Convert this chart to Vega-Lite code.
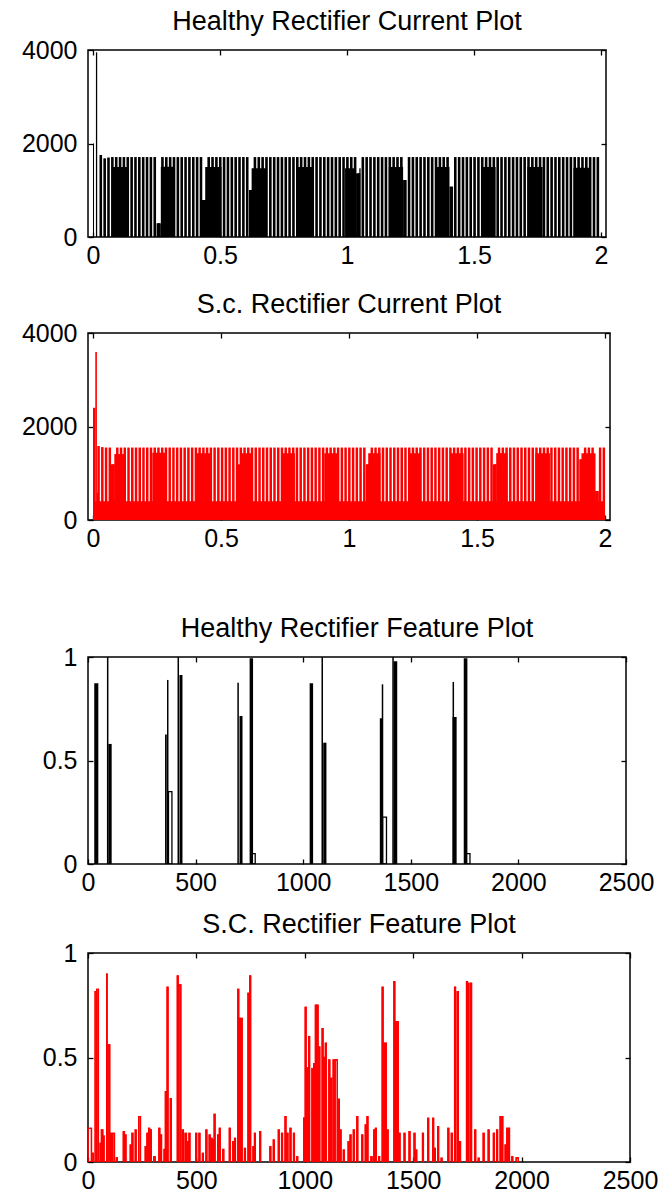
{
  "$schema": "https://vega.github.io/schema/vega-lite/v6.json",
  "background": "white",
  "padding": {"left": 20, "top": 7, "right": 5, "bottom": 5},
  "spacing": 62,
  "vconcat": [
    {
      "spacing": 21,
      "vconcat": [
        {
          "title": {"text": "Healthy Rectifier Current Plot"},
          "width": 518, "height": 187,
          "layer": [
            {
              "data": {"name": "p1blocks"},
              "mark": {"type": "rect", "color": "#000000", "clip": true},
              "encoding": {
                "x": {"field": "t0", "type": "quantitative", "scale": {"domain": [0, 2], "nice": false, "zero": false}, "axis": {"orient": "bottom", "title": null, "values": [0, 0.5, 1, 1.5, 2], "format": "~g", "labelPadding": 11}},
                "x2": {"field": "t1"},
                "y": {"field": "v", "type": "quantitative", "scale": {"domain": [0, 4000], "nice": false}, "axis": {"orient": "left", "title": null, "values": [0, 2000, 4000], "format": "d", "labelPadding": 16}},
                "y2": {"datum": 0}
              }
            },
            {
              "data": {"name": "p1pulses"},
              "mark": {"type": "bar", "orient": "vertical", "width": 2.6, "color": "#000000", "clip": true},
              "encoding": {
                "x": {"field": "t", "type": "quantitative", "axis": {"orient": "top", "title": null, "values": [0, 0.5, 1, 1.5, 2], "labels": false}},
                "y": {"field": "v", "type": "quantitative", "axis": {"orient": "right", "title": null, "values": [0, 2000, 4000], "labels": false}}
              }
            }
          ],
          "resolve": {"axis": {"x": "independent", "y": "independent"}}
        },
        {
          "title": {"text": "S.c. Rectifier Current Plot"},
          "width": 522, "height": 187,
          "layer": [
            {
              "data": {"name": "p2blocks"},
              "mark": {"type": "rect", "color": "#ff0000", "clip": true},
              "encoding": {
                "x": {"field": "t0", "type": "quantitative", "scale": {"domain": [0, 2], "nice": false, "zero": false}, "axis": {"orient": "bottom", "title": null, "values": [0, 0.5, 1, 1.5, 2], "format": "~g", "labelPadding": 11}},
                "x2": {"field": "t1"},
                "y": {"field": "v", "type": "quantitative", "scale": {"domain": [0, 4000], "nice": false}, "axis": {"orient": "left", "title": null, "values": [0, 2000, 4000], "format": "d", "labelPadding": 16}},
                "y2": {"datum": 0}
              }
            },
            {
              "data": {"name": "p2pulses"},
              "mark": {"type": "bar", "orient": "vertical", "width": 2.5, "color": "#ff0000", "clip": true},
              "encoding": {
                "x": {"field": "t", "type": "quantitative", "axis": {"orient": "top", "title": null, "values": [0, 0.5, 1, 1.5, 2], "labels": false}},
                "y": {"field": "v", "type": "quantitative", "axis": {"orient": "right", "title": null, "values": [0, 2000, 4000], "labels": false}}
              }
            }
          ],
          "resolve": {"axis": {"x": "independent", "y": "independent"}}
        }
      ]
    },
    {
      "spacing": 14,
      "vconcat": [
        {
          "title": {"text": "Healthy Rectifier Feature Plot"},
          "width": 538, "height": 207,
          "layer": [
            {
              "data": {"name": "p3solid"},
              "mark": {"type": "rect", "color": "#000000", "clip": true},
              "encoding": {
                "x": {"field": "u0", "type": "quantitative", "scale": {"domain": [0, 2500], "nice": false, "zero": false}, "axis": {"orient": "bottom", "title": null, "values": [0, 500, 1000, 1500, 2000, 2500], "format": "d", "labelPadding": 11}},
                "x2": {"field": "u1"},
                "y": {"field": "v", "type": "quantitative", "scale": {"domain": [0, 1], "nice": false}, "axis": {"orient": "left", "title": null, "values": [0, 0.5, 1], "format": "~g", "labelPadding": 16}},
                "y2": {"datum": 0}
              }
            },
            {
              "data": {"name": "p3outline"},
              "mark": {"type": "rect", "filled": false, "color": "#000000", "strokeWidth": 1.3, "clip": true},
              "encoding": {
                "x": {"field": "u0", "type": "quantitative", "axis": {"orient": "top", "title": null, "values": [0, 500, 1000, 1500, 2000, 2500], "labels": false}},
                "x2": {"field": "u1"},
                "y": {"field": "v", "type": "quantitative", "axis": {"orient": "right", "title": null, "values": [0, 0.5, 1], "labels": false}},
                "y2": {"datum": 0}
              }
            }
          ],
          "resolve": {"axis": {"x": "independent", "y": "independent"}}
        },
        {
          "title": {"text": "S.C. Rectifier Feature Plot"},
          "width": 542, "height": 209,
          "layer": [
            {
              "data": {"name": "p4outline"},
              "mark": {"type": "rect", "filled": false, "color": "#ff0000", "strokeWidth": 1.3, "clip": true},
              "encoding": {
                "x": {"field": "u0", "type": "quantitative", "scale": {"domain": [0, 2500], "nice": false, "zero": false}, "axis": {"orient": "bottom", "title": null, "values": [0, 500, 1000, 1500, 2000, 2500], "format": "d", "labelPadding": 11}},
                "x2": {"field": "u1"},
                "y": {"field": "v", "type": "quantitative", "scale": {"domain": [0, 1], "nice": false}, "axis": {"orient": "left", "title": null, "values": [0, 0.5, 1], "format": "~g", "labelPadding": 16}},
                "y2": {"datum": 0}
              }
            },
            {
              "data": {"name": "p4outline"},
              "mark": {"type": "rect", "filled": false, "color": "#ff0000", "strokeWidth": 1.3, "clip": true},
              "encoding": {
                "x": {"field": "u0", "type": "quantitative", "axis": {"orient": "top", "title": null, "values": [0, 500, 1000, 1500, 2000, 2500], "labels": false}},
                "x2": {"field": "u1"},
                "y": {"field": "v", "type": "quantitative", "axis": {"orient": "right", "title": null, "values": [0, 0.5, 1], "labels": false}},
                "y2": {"datum": 0}
              }
            }
          ],
          "resolve": {"axis": {"x": "independent", "y": "independent"}}
        }
      ]
    }
  ],
  "datasets": {
    "p1blocks": [
      {"t0": 0, "t1": 0.004, "v": 2000}, {"t0": 0.0115, "t1": 0.0165, "v": 3950},
      {"t0": 0.0755, "t1": 0.1352, "v": 1500},
      {"t0": 0.2502, "t1": 0.2670, "v": 293}, {"t0": 0.2670, "t1": 0.3230, "v": 1504},
      {"t0": 0.4291, "t1": 0.4418, "v": 791}, {"t0": 0.4418, "t1": 0.5057, "v": 1500},
      {"t0": 0.6142, "t1": 0.6245, "v": 1005}, {"t0": 0.6245, "t1": 0.6847, "v": 1469},
      {"t0": 0.7996, "t1": 0.8697, "v": 1500},
      {"t0": 0.9923, "t1": 1.0357, "v": 1470}, {"t0": 1.0357, "t1": 1.0485, "v": 1362}, {"t0": 1.0485, "t1": 1.0536, "v": 1470},
      {"t0": 1.1648, "t1": 1.2209, "v": 1500}, {"t0": 1.2209, "t1": 1.2337, "v": 1219},
      {"t0": 1.3487, "t1": 1.4035, "v": 1500}, {"t0": 1.4035, "t1": 1.4176, "v": 1076},
      {"t0": 1.5276, "t1": 1.5851, "v": 1500},
      {"t0": 1.7100, "t1": 1.7701, "v": 1500},
      {"t0": 1.8916, "t1": 1.9552, "v": 1480}
    ],
    "p1pulses": [
      {"t": 0.0307, "v": 1754}, {"t": 0.0459, "v": 1683}, {"t": 0.0610, "v": 1700}, {"t": 0.0762, "v": 1710}, {"t": 0.0914, "v": 1710},
      {"t": 0.1066, "v": 1710}, {"t": 0.1217, "v": 1710}, {"t": 0.1369, "v": 1710}, {"t": 0.1521, "v": 1710}, {"t": 0.1672, "v": 1710},
      {"t": 0.1824, "v": 1710}, {"t": 0.1976, "v": 1710}, {"t": 0.2127, "v": 1710}, {"t": 0.2279, "v": 1710}, {"t": 0.2431, "v": 1710},
      {"t": 0.2583, "v": 293}, {"t": 0.2734, "v": 1710}, {"t": 0.2886, "v": 1710}, {"t": 0.3038, "v": 1710}, {"t": 0.3189, "v": 1710},
      {"t": 0.3341, "v": 1710}, {"t": 0.3493, "v": 1710}, {"t": 0.3644, "v": 1710}, {"t": 0.3796, "v": 1710}, {"t": 0.3948, "v": 1710},
      {"t": 0.4099, "v": 1710}, {"t": 0.4251, "v": 1710}, {"t": 0.4403, "v": 791}, {"t": 0.4555, "v": 1710}, {"t": 0.4706, "v": 1710},
      {"t": 0.4858, "v": 1710}, {"t": 0.5010, "v": 1710}, {"t": 0.5161, "v": 1710}, {"t": 0.5313, "v": 1710}, {"t": 0.5465, "v": 1710},
      {"t": 0.5617, "v": 1710}, {"t": 0.5768, "v": 1710}, {"t": 0.5920, "v": 1710}, {"t": 0.6072, "v": 1710}, {"t": 0.6223, "v": 1005},
      {"t": 0.6375, "v": 1710}, {"t": 0.6527, "v": 1710}, {"t": 0.6678, "v": 1710}, {"t": 0.6830, "v": 1710}, {"t": 0.6982, "v": 1710},
      {"t": 0.7134, "v": 1710}, {"t": 0.7285, "v": 1710}, {"t": 0.7437, "v": 1710}, {"t": 0.7589, "v": 1710}, {"t": 0.7740, "v": 1710},
      {"t": 0.7892, "v": 1710}, {"t": 0.8044, "v": 1710}, {"t": 0.8195, "v": 1710}, {"t": 0.8347, "v": 1710}, {"t": 0.8499, "v": 1710},
      {"t": 0.8651, "v": 1710}, {"t": 0.8802, "v": 1710}, {"t": 0.8954, "v": 1710}, {"t": 0.9106, "v": 1710}, {"t": 0.9257, "v": 1710},
      {"t": 0.9409, "v": 1710}, {"t": 0.9561, "v": 1710}, {"t": 0.9712, "v": 1710}, {"t": 0.9864, "v": 1710}, {"t": 1.0016, "v": 1710},
      {"t": 1.0168, "v": 1710}, {"t": 1.0319, "v": 1710}, {"t": 1.0471, "v": 1362}, {"t": 1.0623, "v": 1710}, {"t": 1.0774, "v": 1710},
      {"t": 1.0926, "v": 1710}, {"t": 1.1078, "v": 1710}, {"t": 1.1229, "v": 1710}, {"t": 1.1381, "v": 1710}, {"t": 1.1533, "v": 1710},
      {"t": 1.1685, "v": 1710}, {"t": 1.1836, "v": 1710}, {"t": 1.1988, "v": 1710}, {"t": 1.2140, "v": 1710}, {"t": 1.2291, "v": 1219},
      {"t": 1.2443, "v": 1710}, {"t": 1.2595, "v": 1710}, {"t": 1.2746, "v": 1710}, {"t": 1.2898, "v": 1710}, {"t": 1.3050, "v": 1710},
      {"t": 1.3202, "v": 1710}, {"t": 1.3353, "v": 1710}, {"t": 1.3505, "v": 1710}, {"t": 1.3657, "v": 1710}, {"t": 1.3808, "v": 1710},
      {"t": 1.3960, "v": 1710}, {"t": 1.4112, "v": 1076}, {"t": 1.4263, "v": 1710}, {"t": 1.4415, "v": 1710}, {"t": 1.4567, "v": 1710},
      {"t": 1.4719, "v": 1710}, {"t": 1.4870, "v": 1710}, {"t": 1.5022, "v": 1710}, {"t": 1.5174, "v": 1710}, {"t": 1.5325, "v": 1710},
      {"t": 1.5477, "v": 1710}, {"t": 1.5629, "v": 1710}, {"t": 1.5780, "v": 1710}, {"t": 1.5932, "v": 1710}, {"t": 1.6084, "v": 1710},
      {"t": 1.6236, "v": 1710}, {"t": 1.6387, "v": 1710}, {"t": 1.6539, "v": 1710}, {"t": 1.6691, "v": 1710}, {"t": 1.6842, "v": 1710},
      {"t": 1.6994, "v": 1710}, {"t": 1.7146, "v": 1710}, {"t": 1.7297, "v": 1710}, {"t": 1.7449, "v": 1710}, {"t": 1.7601, "v": 1710},
      {"t": 1.7753, "v": 1710}, {"t": 1.7904, "v": 1710}, {"t": 1.8056, "v": 1710}, {"t": 1.8208, "v": 1710}, {"t": 1.8359, "v": 1710},
      {"t": 1.8511, "v": 1710}, {"t": 1.8663, "v": 1710}, {"t": 1.8814, "v": 1710}, {"t": 1.8966, "v": 1710}, {"t": 1.9118, "v": 1710},
      {"t": 1.9270, "v": 1710}, {"t": 1.9421, "v": 1710}, {"t": 1.9573, "v": 1710}, {"t": 1.9725, "v": 1710}, {"t": 1.9876, "v": 1710}
    ],
    "p2blocks": [
      {"t0": 0, "t1": 2, "v": 400},
      {"t0": 0, "t1": 0.0089, "v": 2400}, {"t0": 0.0089, "t1": 0.0153, "v": 3594}, {"t0": 0.0153, "t1": 0.0220, "v": 585},
      {"t0": 0.0699, "t1": 0.0833, "v": 1191}, {"t0": 0.0833, "t1": 0.1210, "v": 1411},
      {"t0": 0.2317, "t1": 0.2863, "v": 1440},
      {"t0": 0.4008, "t1": 0.4580, "v": 1430},
      {"t0": 0.5660, "t1": 0.5763, "v": 1191}, {"t0": 0.5763, "t1": 0.6233, "v": 1430},
      {"t0": 0.7379, "t1": 0.7888, "v": 1430},
      {"t0": 0.9034, "t1": 0.9580, "v": 1430},
      {"t0": 1.0660, "t1": 1.0750, "v": 1191}, {"t0": 1.0750, "t1": 1.1233, "v": 1430},
      {"t0": 1.2316, "t1": 1.2824, "v": 1430},
      {"t0": 1.3969, "t1": 1.4477, "v": 1430},
      {"t0": 1.5622, "t1": 1.5750, "v": 1191}, {"t0": 1.5750, "t1": 1.6195, "v": 1430},
      {"t0": 1.7278, "t1": 1.7850, "v": 1430},
      {"t0": 1.8996, "t1": 1.9080, "v": 1298}, {"t0": 1.9080, "t1": 1.9630, "v": 1430}, {"t0": 1.9630, "t1": 1.9760, "v": 620}
    ],
    "p2pulses": [
      {"t": 0.0218, "v": 1583}, {"t": 0.0364, "v": 1560}, {"t": 0.0510, "v": 1550}, {"t": 0.0657, "v": 1550}, {"t": 0.0803, "v": 1191},
      {"t": 0.0949, "v": 1550}, {"t": 0.1095, "v": 1550}, {"t": 0.1241, "v": 1550}, {"t": 0.1388, "v": 1550}, {"t": 0.1534, "v": 1550},
      {"t": 0.1680, "v": 1550}, {"t": 0.1826, "v": 1550}, {"t": 0.1972, "v": 1550}, {"t": 0.2119, "v": 1550}, {"t": 0.2265, "v": 1550},
      {"t": 0.2411, "v": 1550}, {"t": 0.2557, "v": 1550}, {"t": 0.2703, "v": 1550}, {"t": 0.2850, "v": 1550}, {"t": 0.2996, "v": 1550},
      {"t": 0.3142, "v": 1550}, {"t": 0.3288, "v": 1550}, {"t": 0.3434, "v": 1550}, {"t": 0.3581, "v": 1550}, {"t": 0.3727, "v": 1550},
      {"t": 0.3873, "v": 1550}, {"t": 0.4019, "v": 1550}, {"t": 0.4165, "v": 1550}, {"t": 0.4312, "v": 1550}, {"t": 0.4458, "v": 1550},
      {"t": 0.4604, "v": 1550}, {"t": 0.4750, "v": 1550}, {"t": 0.4896, "v": 1550}, {"t": 0.5043, "v": 1550}, {"t": 0.5189, "v": 1550},
      {"t": 0.5335, "v": 1550}, {"t": 0.5481, "v": 1550}, {"t": 0.5627, "v": 1550}, {"t": 0.5774, "v": 1550}, {"t": 0.5920, "v": 1550},
      {"t": 0.6066, "v": 1550}, {"t": 0.6212, "v": 1550}, {"t": 0.6358, "v": 1550}, {"t": 0.6505, "v": 1550}, {"t": 0.6651, "v": 1550},
      {"t": 0.6797, "v": 1550}, {"t": 0.6943, "v": 1550}, {"t": 0.7089, "v": 1550}, {"t": 0.7236, "v": 1550}, {"t": 0.7382, "v": 1550},
      {"t": 0.7528, "v": 1550}, {"t": 0.7674, "v": 1550}, {"t": 0.7820, "v": 1550}, {"t": 0.7967, "v": 1550}, {"t": 0.8113, "v": 1550},
      {"t": 0.8259, "v": 1550}, {"t": 0.8405, "v": 1550}, {"t": 0.8551, "v": 1550}, {"t": 0.8698, "v": 1550}, {"t": 0.8844, "v": 1550},
      {"t": 0.8990, "v": 1550}, {"t": 0.9136, "v": 1550}, {"t": 0.9282, "v": 1550}, {"t": 0.9429, "v": 1550}, {"t": 0.9575, "v": 1550},
      {"t": 0.9721, "v": 1550}, {"t": 0.9867, "v": 1550}, {"t": 1.0013, "v": 1550}, {"t": 1.0160, "v": 1550}, {"t": 1.0306, "v": 1550},
      {"t": 1.0452, "v": 1550}, {"t": 1.0598, "v": 1550}, {"t": 1.0744, "v": 1191}, {"t": 1.0891, "v": 1550}, {"t": 1.1037, "v": 1550},
      {"t": 1.1183, "v": 1550}, {"t": 1.1329, "v": 1550}, {"t": 1.1475, "v": 1550}, {"t": 1.1622, "v": 1550}, {"t": 1.1768, "v": 1550},
      {"t": 1.1914, "v": 1550}, {"t": 1.2060, "v": 1550}, {"t": 1.2206, "v": 1550}, {"t": 1.2353, "v": 1550}, {"t": 1.2499, "v": 1550},
      {"t": 1.2645, "v": 1550}, {"t": 1.2791, "v": 1550}, {"t": 1.2937, "v": 1550}, {"t": 1.3084, "v": 1550}, {"t": 1.3230, "v": 1550},
      {"t": 1.3376, "v": 1550}, {"t": 1.3522, "v": 1550}, {"t": 1.3668, "v": 1550}, {"t": 1.3815, "v": 1550}, {"t": 1.3961, "v": 1550},
      {"t": 1.4107, "v": 1550}, {"t": 1.4253, "v": 1550}, {"t": 1.4399, "v": 1550}, {"t": 1.4546, "v": 1550}, {"t": 1.4692, "v": 1550},
      {"t": 1.4838, "v": 1550}, {"t": 1.4984, "v": 1550}, {"t": 1.5130, "v": 1550}, {"t": 1.5277, "v": 1550}, {"t": 1.5423, "v": 1550},
      {"t": 1.5569, "v": 1550}, {"t": 1.5715, "v": 1191}, {"t": 1.5861, "v": 1550}, {"t": 1.6008, "v": 1550}, {"t": 1.6154, "v": 1550},
      {"t": 1.6300, "v": 1550}, {"t": 1.6446, "v": 1550}, {"t": 1.6592, "v": 1550}, {"t": 1.6739, "v": 1550}, {"t": 1.6885, "v": 1550},
      {"t": 1.7031, "v": 1550}, {"t": 1.7177, "v": 1550}, {"t": 1.7323, "v": 1550}, {"t": 1.7470, "v": 1550}, {"t": 1.7616, "v": 1550},
      {"t": 1.7762, "v": 1550}, {"t": 1.7908, "v": 1550}, {"t": 1.8054, "v": 1550}, {"t": 1.8201, "v": 1550}, {"t": 1.8347, "v": 1550},
      {"t": 1.8493, "v": 1550}, {"t": 1.8639, "v": 1550}, {"t": 1.8785, "v": 1550}, {"t": 1.8932, "v": 1550}, {"t": 1.9078, "v": 1298},
      {"t": 1.9224, "v": 1550}, {"t": 1.9370, "v": 1550}, {"t": 1.9516, "v": 1550}, {"t": 1.9663, "v": 620}, {"t": 1.9809, "v": 1550},
      {"t": 1.9955, "v": 1550}
    ],
    "p3solid": [
      {"u0": 29, "u1": 48, "v": 0.873}, {"u0": 94.5, "u1": 110, "v": 0.58},
      {"u0": 358, "u1": 366, "v": 0.626}, {"u0": 425, "u1": 439, "v": 0.913},
      {"u0": 704, "u1": 718, "v": 0.715}, {"u0": 751, "u1": 767, "v": 0.994},
      {"u0": 1030, "u1": 1046, "v": 0.873}, {"u0": 1093, "u1": 1108, "v": 0.586},
      {"u0": 1356, "u1": 1369, "v": 0.704}, {"u0": 1420, "u1": 1437, "v": 0.98},
      {"u0": 1694, "u1": 1713, "v": 0.71}, {"u0": 1746, "u1": 1763, "v": 0.994}
    ],
    "p3outline": [
      {"u0": 91, "u1": 92, "v": 1.0}, {"u0": 370, "u1": 371, "v": 0.886}, {"u0": 374, "u1": 390, "v": 0.35},
      {"u0": 419, "u1": 420, "v": 1.0}, {"u0": 697, "u1": 698, "v": 0.873}, {"u0": 757, "u1": 777, "v": 0.05},
      {"u0": 1088, "u1": 1089, "v": 1.0}, {"u0": 1368, "u1": 1369, "v": 0.865}, {"u0": 1369, "u1": 1387, "v": 0.226},
      {"u0": 1417, "u1": 1418, "v": 1.0}, {"u0": 1697, "u1": 1698, "v": 0.876}, {"u0": 1756, "u1": 1775, "v": 0.05}
    ],
    "p4outline": [
      {"u0": 0, "u1": 16, "v": 0.161}, {"u0": 17, "u1": 24, "v": 0.041}, {"u0": 33, "u1": 40, "v": 0.815}, {"u0": 40, "u1": 48, "v": 0.826},
      {"u0": 56, "u1": 60, "v": 0.089}, {"u0": 62, "u1": 68, "v": 0.153}, {"u0": 70, "u1": 74, "v": 0.124}, {"u0": 86, "u1": 88, "v": 0.899},
      {"u0": 93, "u1": 100, "v": 0.56}, {"u0": 104, "u1": 110, "v": 0.137}, {"u0": 114, "u1": 122, "v": 0.137}, {"u0": 131, "u1": 135, "v": 0.02},
      {"u0": 163, "u1": 168, "v": 0.145}, {"u0": 170, "u1": 175, "v": 0.129}, {"u0": 195, "u1": 199, "v": 0.081}, {"u0": 203, "u1": 207, "v": 0.137},
      {"u0": 218, "u1": 222, "v": 0.153}, {"u0": 234, "u1": 242, "v": 0.217}, {"u0": 264, "u1": 268, "v": 0.073}, {"u0": 272, "u1": 276, "v": 0.137},
      {"u0": 280, "u1": 284, "v": 0.161}, {"u0": 288, "u1": 292, "v": 0.153}, {"u0": 303, "u1": 310, "v": 0.025}, {"u0": 327, "u1": 331, "v": 0.161},
      {"u0": 335, "u1": 339, "v": 0.129}, {"u0": 351, "u1": 356, "v": 0.06}, {"u0": 357, "u1": 362, "v": 0.336}, {"u0": 365, "u1": 369, "v": 0.836},
      {"u0": 380, "u1": 384, "v": 0.303}, {"u0": 412, "u1": 416, "v": 0.89}, {"u0": 420, "u1": 428, "v": 0.847}, {"u0": 435, "u1": 440, "v": 0.153},
      {"u0": 448, "u1": 454, "v": 0.137}, {"u0": 458, "u1": 462, "v": 0.097}, {"u0": 466, "u1": 470, "v": 0.137}, {"u0": 497, "u1": 501, "v": 0.137},
      {"u0": 512, "u1": 516, "v": 0.137}, {"u0": 528, "u1": 532, "v": 0.041}, {"u0": 544, "u1": 548, "v": 0.153}, {"u0": 559, "u1": 563, "v": 0.129},
      {"u0": 568, "u1": 572, "v": 0.113}, {"u0": 575, "u1": 579, "v": 0.105}, {"u0": 582, "u1": 586, "v": 0.228}, {"u0": 598, "u1": 602, "v": 0.129},
      {"u0": 606, "u1": 610, "v": 0.161}, {"u0": 622, "u1": 626, "v": 0.06}, {"u0": 652, "u1": 656, "v": 0.161}, {"u0": 668, "u1": 672, "v": 0.097},
      {"u0": 676, "u1": 680, "v": 0.113}, {"u0": 691, "u1": 695, "v": 0.826}, {"u0": 699, "u1": 703, "v": 0.687}, {"u0": 707, "u1": 711, "v": 0.687},
      {"u0": 722, "u1": 726, "v": 0.065}, {"u0": 738, "u1": 742, "v": 0.807}, {"u0": 746, "u1": 750, "v": 0.89}, {"u0": 761, "u1": 765, "v": 0.073},
      {"u0": 768, "u1": 772, "v": 0.137}, {"u0": 792, "u1": 796, "v": 0.145}, {"u0": 839, "u1": 843, "v": 0.073}, {"u0": 855, "u1": 859, "v": 0.105},
      {"u0": 878, "u1": 882, "v": 0.153}, {"u0": 893, "u1": 897, "v": 0.137}, {"u0": 909, "u1": 913, "v": 0.217}, {"u0": 918, "u1": 922, "v": 0.137},
      {"u0": 932, "u1": 936, "v": 0.161}, {"u0": 948, "u1": 952, "v": 0.137}, {"u0": 963, "u1": 967, "v": 0.025}, {"u0": 995, "u1": 999, "v": 0.21},
      {"u0": 1002, "u1": 1006, "v": 0.74}, {"u0": 1010, "u1": 1014, "v": 0.45}, {"u0": 1018, "u1": 1022, "v": 0.6}, {"u0": 1033, "u1": 1037, "v": 0.447},
      {"u0": 1041, "u1": 1045, "v": 0.47}, {"u0": 1049, "u1": 1053, "v": 0.75}, {"u0": 1057, "u1": 1061, "v": 0.75}, {"u0": 1065, "u1": 1069, "v": 0.55},
      {"u0": 1080, "u1": 1084, "v": 0.638}, {"u0": 1088, "u1": 1092, "v": 0.5}, {"u0": 1095, "u1": 1099, "v": 0.568}, {"u0": 1111, "u1": 1115, "v": 0.488},
      {"u0": 1120, "u1": 1124, "v": 0.4}, {"u0": 1131, "u1": 1135, "v": 0.488}, {"u0": 1140, "u1": 1150, "v": 0.488}, {"u0": 1155, "u1": 1159, "v": 0.3},
      {"u0": 1163, "u1": 1167, "v": 0.153}, {"u0": 1178, "u1": 1182, "v": 0.057}, {"u0": 1200, "u1": 1204, "v": 0.097}, {"u0": 1209, "u1": 1213, "v": 0.129},
      {"u0": 1224, "u1": 1228, "v": 0.153}, {"u0": 1240, "u1": 1244, "v": 0.217}, {"u0": 1263, "u1": 1267, "v": 0.129}, {"u0": 1279, "u1": 1283, "v": 0.177},
      {"u0": 1287, "u1": 1291, "v": 0.217}, {"u0": 1305, "u1": 1310, "v": 0.025}, {"u0": 1318, "u1": 1322, "v": 0.153}, {"u0": 1326, "u1": 1330, "v": 0.161},
      {"u0": 1341, "u1": 1345, "v": 0.025}, {"u0": 1357, "u1": 1361, "v": 0.836}, {"u0": 1365, "u1": 1369, "v": 0.568}, {"u0": 1372, "u1": 1376, "v": 0.568},
      {"u0": 1380, "u1": 1384, "v": 0.153}, {"u0": 1411, "u1": 1415, "v": 0.863}, {"u0": 1419, "u1": 1423, "v": 0.671}, {"u0": 1427, "u1": 1431, "v": 0.671},
      {"u0": 1435, "u1": 1439, "v": 0.137}, {"u0": 1458, "u1": 1462, "v": 0.137}, {"u0": 1481, "u1": 1485, "v": 0.145}, {"u0": 1504, "u1": 1508, "v": 0.137},
      {"u0": 1512, "u1": 1516, "v": 0.057}, {"u0": 1543, "u1": 1547, "v": 0.137}, {"u0": 1567, "u1": 1571, "v": 0.209}, {"u0": 1590, "u1": 1594, "v": 0.209},
      {"u0": 1598, "u1": 1602, "v": 0.065}, {"u0": 1613, "u1": 1617, "v": 0.169}, {"u0": 1629, "u1": 1633, "v": 0.018}, {"u0": 1660, "u1": 1664, "v": 0.161},
      {"u0": 1676, "u1": 1680, "v": 0.137}, {"u0": 1691, "u1": 1695, "v": 0.836}, {"u0": 1703, "u1": 1708, "v": 0.815}, {"u0": 1714, "u1": 1718, "v": 0.097},
      {"u0": 1746, "u1": 1750, "v": 0.863}, {"u0": 1753, "u1": 1757, "v": 0.855}, {"u0": 1765, "u1": 1769, "v": 0.855}, {"u0": 1784, "u1": 1788, "v": 0.153},
      {"u0": 1800, "u1": 1804, "v": 0.018}, {"u0": 1823, "u1": 1827, "v": 0.137}, {"u0": 1846, "u1": 1850, "v": 0.153}, {"u0": 1870, "u1": 1874, "v": 0.137},
      {"u0": 1885, "u1": 1889, "v": 0.153}, {"u0": 1901, "u1": 1905, "v": 0.217}, {"u0": 1909, "u1": 1913, "v": 0.217}, {"u0": 1924, "u1": 1928, "v": 0.081},
      {"u0": 1932, "u1": 1936, "v": 0.161}, {"u0": 1940, "u1": 1944, "v": 0.161}, {"u0": 1955, "u1": 1959, "v": 0.025}, {"u0": 1975, "u1": 1985, "v": 0.02}
    ]
  },
  "config": {
    "font": "Liberation Sans",
    "view": {"stroke": "#000000", "strokeWidth": 1.5},
    "axis": {
      "domain": false, "grid": false,
      "labelFont": "Liberation Sans", "labelFontSize": 25, "labelColor": "#000000",
      "tickColor": "#000000", "tickWidth": 1.3, "tickSize": -5,
      "labelFlush": false, "labelOverlap": false, "labelBound": false
    },
    "title": {"font": "Liberation Sans", "fontSize": 27, "fontWeight": "normal", "color": "#000000", "offset": 2}
  }
}
